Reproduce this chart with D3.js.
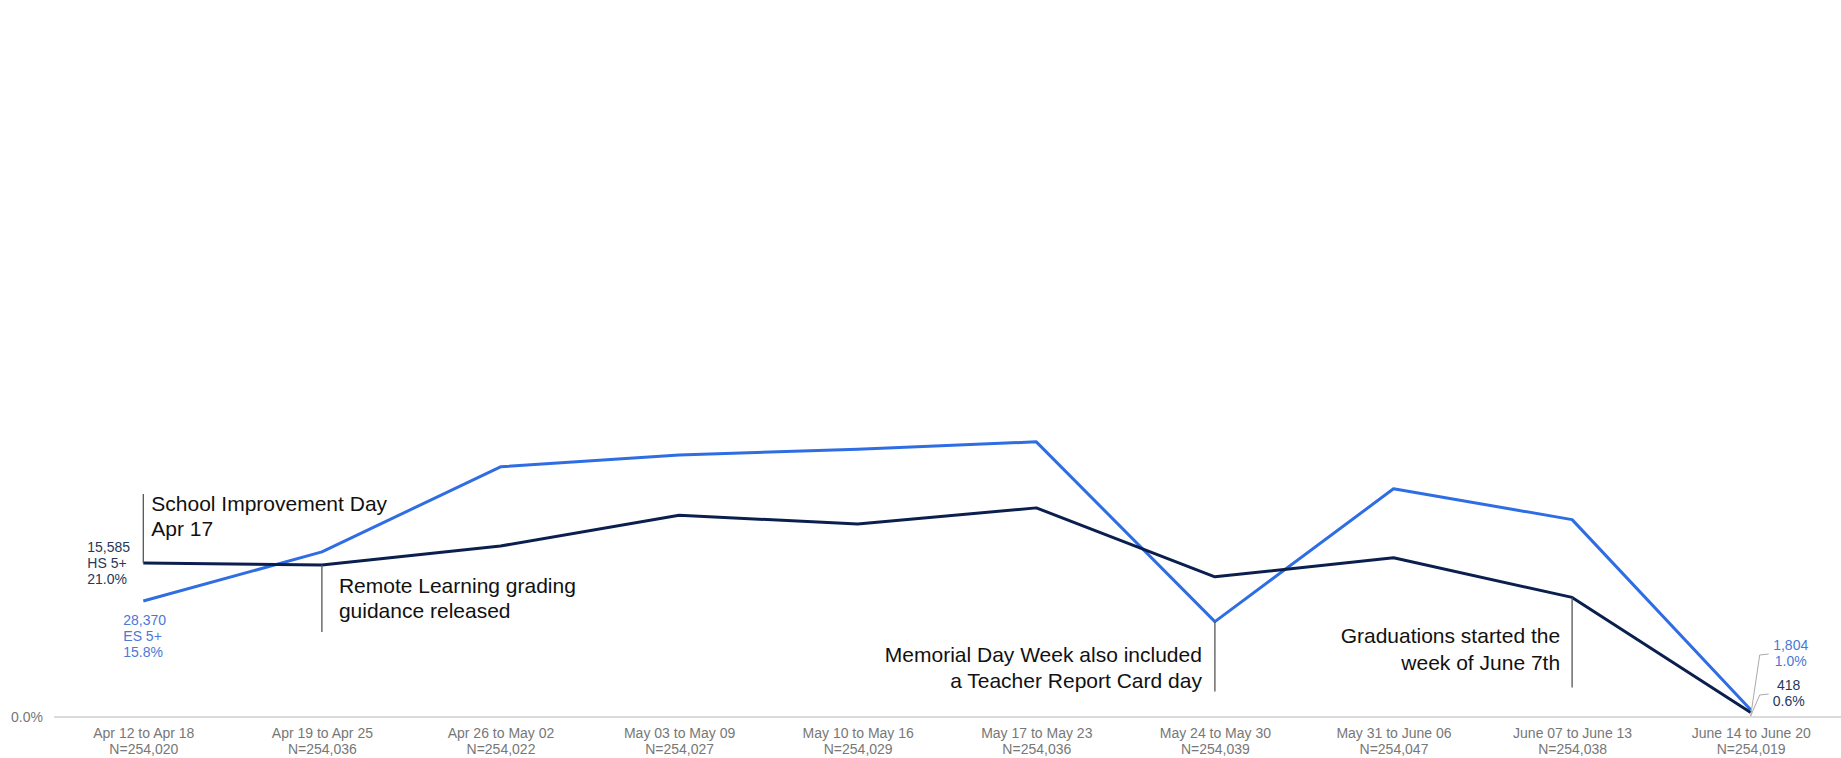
<!DOCTYPE html>
<html>
<head>
<meta charset="utf-8">
<script src="https://cdn.jsdelivr.net/npm/d3@7"></script>
<style>
  body { margin: 0; background: #fff; }
  svg { display: block; font-family: Arial, "Liberation Sans", sans-serif; }
</style>
</head>
<body>
<svg id="chart" width="1841" height="758"></svg>
<script>
// weeks on the x axis and their counts
const weeks = ["Apr 12 to Apr 18", "Apr 19 to Apr 25", "Apr 26 to May 02", "May 03 to May 09",
  "May 10 to May 16", "May 17 to May 23", "May 24 to May 30", "May 31 to June 06",
  "June 07 to June 13", "June 14 to June 20"];
const nCounts = ["N=254,020", "N=254,036", "N=254,022", "N=254,027", "N=254,029",
  "N=254,036", "N=254,039", "N=254,047", "N=254,038", "N=254,019"];

// percent of students, HS 5+ and ES 5+
const hsPct = [21.0, 20.7, 23.3, 27.5, 26.3, 28.5, 19.1, 21.7, 16.3, 0.6];
const esPct = [15.8, 22.5, 34.1, 35.7, 36.5, 37.5, 13.0, 31.1, 26.9, 1.0];

const yTicks = [0];

// first / last point labels
const hsFirstLabel = ["15,585", "HS 5+", "21.0%"];
const esFirstLabel = ["28,370", "ES 5+", "15.8%"];
const esLastLabel = ["1,804", "1.0%"];
const hsLastLabel = ["418", "0.6%"];

// notes on the chart
const notes = [
  { week: 0, series: "hs", lines: ["School Improvement Day", "Apr 17"] },
  { week: 1, series: "hs", lines: ["Remote Learning grading", "guidance released"] },
  { week: 6, series: "es", lines: ["Memorial Day Week also included", "a Teacher Report Card day"] },
  { week: 8, series: "hs", lines: ["Graduations started the", "week of June 7th"] }
];

const hsColor = "#0b1f4f", esColor = "#2f6de3";

const svg = d3.select("#chart");

const x = d3.scalePoint().domain(weeks).range([54, 1840]).padding(0.5);
const y = d3.scaleLinear().domain([0, 80]).range([717, 130]);

// baseline grid
svg.append("line")
  .attr("x1", 54).attr("x2", 1841)
  .attr("y1", y(0)).attr("y2", y(0))
  .attr("stroke", "#cfcfcf").attr("stroke-width", 1.5);

// y axis (only the 0 tick)
const yAxis = svg.append("g")
  .attr("transform", "translate(43,0)")
  .call(d3.axisLeft(y).tickValues(yTicks).tickSize(0).tickFormat(d => d.toFixed(1) + "%"));
yAxis.select(".domain").remove();
yAxis.selectAll("text").attr("x", 0).attr("dy", "0.35em")
  .attr("font-size", 14).attr("fill", "#777")
  .attr("font-family", "Arial, 'Liberation Sans', sans-serif");

// x axis with two line labels
const xAxis = svg.append("g")
  .attr("transform", "translate(0,724)")
  .call(d3.axisBottom(x).tickSize(0));
xAxis.select(".domain").remove();
xAxis.selectAll("text").each(function(d, i) {
  const t = d3.select(this).text(null)
    .attr("font-size", 14).attr("fill", "#777")
    .attr("font-family", "Arial, 'Liberation Sans', sans-serif")
    .attr("y", 0).attr("dy", null);
  t.append("tspan").attr("x", 0).attr("y", 14).text(d);
  t.append("tspan").attr("x", 0).attr("y", 30).text(nCounts[i]);
});

// lines
const line = d3.line().x((d, i) => x(weeks[i])).y(d => y(d));

svg.append("path").datum(esPct)
  .attr("fill", "none").attr("stroke", esColor).attr("stroke-width", 3)
  .attr("stroke-linejoin", "round").attr("d", line);
svg.append("path").datum(hsPct)
  .attr("fill", "none").attr("stroke", hsColor).attr("stroke-width", 3)
  .attr("stroke-linejoin", "round").attr("d", line);

// notes
const noteLayout = [
  { lineTo: -69, anchor: "start", dx: 8, base: [-52, -27] },
  { lineTo: 67, anchor: "start", dx: 17, base: [28, 53] },
  { lineTo: 70, anchor: "end", dx: -13, base: [40, 66] },
  { lineTo: 90, anchor: "end", dx: -12, base: [46, 73] }
];
notes.forEach((n, k) => {
  const L = noteLayout[k];
  const px = x(weeks[n.week]);
  const py = y(n.series === "hs" ? hsPct[n.week] : esPct[n.week]);
  svg.append("line")
    .attr("x1", px).attr("x2", px)
    .attr("y1", py).attr("y2", py + L.lineTo)
    .attr("stroke", "#555").attr("stroke-width", 1.3);
  n.lines.forEach((s, j) => {
    svg.append("text")
      .attr("x", px + L.dx).attr("y", py + L.base[j])
      .attr("text-anchor", L.anchor)
      .attr("font-size", 21).attr("fill", "#111")
      .text(s);
  });
});

// first point labels
function stack(lines, x0, y0, anchor, color) {
  lines.forEach((s, j) => {
    svg.append("text")
      .attr("x", x0).attr("y", y0 + j * 16)
      .attr("text-anchor", anchor)
      .attr("font-size", 14).attr("fill", color)
      .text(s);
  });
}
const x0 = x(weeks[0]), xl = x(weeks[weeks.length - 1]);
stack(hsFirstLabel, x0 - 56, y(hsPct[0]) - 11, "start", "#26375c");
stack(esFirstLabel, x0 - 20, y(esPct[0]) + 24, "start", "#4a78d8");

// last point labels with leader lines
const yl = y(0);
stack(esLastLabel, xl + 40, yl - 67, "middle", "#4a78d8");
stack(hsLastLabel, xl + 38, yl - 27, "middle", "#26375c");
svg.append("path")
  .attr("d", `M${xl},${yl - 1}L${xl + 9},${yl - 62}L${xl + 18},${yl - 63}`)
  .attr("fill", "none").attr("stroke", "#aaa").attr("stroke-width", 1);
svg.append("path")
  .attr("d", `M${xl},${yl - 1}L${xl + 9},${yl - 22}L${xl + 18},${yl - 23}`)
  .attr("fill", "none").attr("stroke", "#aaa").attr("stroke-width", 1);
</script>
</body>
</html>
